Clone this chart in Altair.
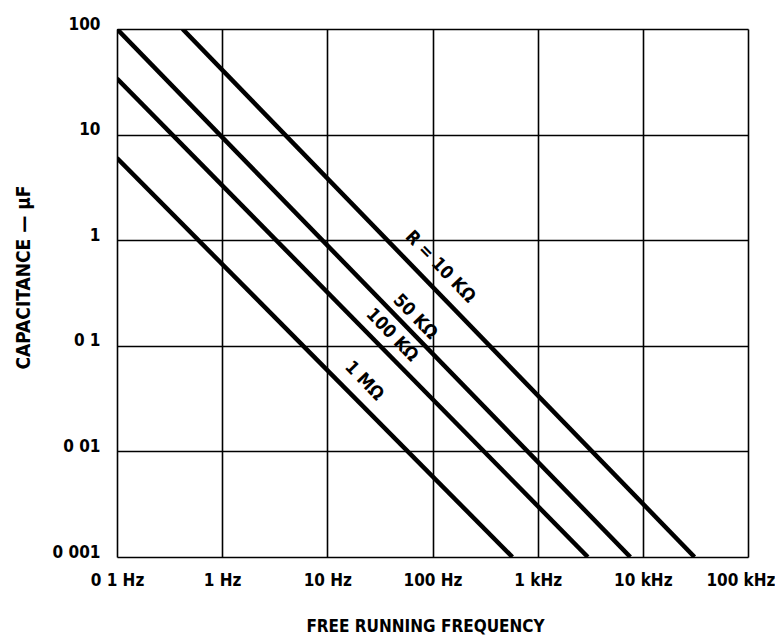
import altair as alt
import pandas as pd

# Line endpoints (frequency in Hz, capacitance in uF)
series = ["10K", "50K", "100K", "1M"]
f_start = [0.42, 0.1, 0.1, 0.1]
c_start = [100, 100, 34, 6.0]
f_end = [31000, 7600, 3000, 575]
c_end = [0.001, 0.001, 0.001, 0.001]

# Curve labels
label_text = ["R = 10 KΩ", "50 KΩ", "100 KΩ", "1 MΩ"]
label_f = [118, 68, 41, 22.3]
label_c = [0.557, 0.187, 0.126, 0.0464]

x_tick_values = [0.1, 1, 10, 100, 1000, 10000, 100000]
x_tick_labels = ["0 1 Hz", "1 Hz", "10 Hz", "100 Hz", "1 kHz", "10 kHz", "100 kHz"]
y_tick_values = [0.001, 0.01, 0.1, 1, 10, 100]
y_tick_labels = ["0 001", "0 01", "0 1", "1", "10", "100"]

rows = []
for s, f0, c0, f1, c1 in zip(series, f_start, c_start, f_end, c_end):
    rows.append({"series": s, "f": f0, "c": c0})
    rows.append({"series": s, "f": f1, "c": c1})
lines_df = pd.DataFrame(rows)
labels_df = pd.DataFrame({"text": label_text, "f": label_f, "c": label_c})


def label_expr(values, labels):
    expr = "''"
    for v, l in zip(values, labels):
        expr = f"abs(datum.value - {v}) < {v}*0.01 ? '{l}' : " + expr
    return expr


FONT = "DejaVu Sans Condensed, Liberation Sans Narrow, Liberation Sans, sans-serif"

xscale = alt.Scale(type="log", domain=[0.1, 100000], nice=False)
yscale = alt.Scale(type="log", domain=[0.001, 100], nice=False)

x_axis = alt.Axis(
    values=x_tick_values,
    labelExpr=label_expr(x_tick_values, x_tick_labels),
    title="FREE RUNNING FREQUENCY",
    grid=True, gridColor="black", gridWidth=1.6, gridOpacity=1,
    domain=False, ticks=False,
    labelFont=FONT, labelFontSize=17, labelFontWeight="bold", labelColor="black",
    labelPadding=15, labelFlush=False,
    labelAlign={"condition": {"test": "datum.value > 50000", "value": "right"}, "value": "center"},
    labelOffset={"condition": {"test": "datum.value > 50000", "value": 27}, "value": 0},
    titleFont=FONT, titleFontSize=17, titleFontWeight="bold", titleColor="black",
    titlePadding=30, titleX=308,
)
y_axis = alt.Axis(
    values=y_tick_values,
    labelExpr=label_expr(y_tick_values, y_tick_labels),
    title="CAPACITANCE  —  µF",
    grid=True, gridColor="black", gridWidth=1.6, gridOpacity=1,
    domain=False, ticks=False,
    labelFont=FONT, labelFontSize=17, labelFontWeight="bold", labelColor="black",
    labelPadding=17, labelBaseline="alphabetic", labelFlush=False,
    titleFont=FONT, titleFontSize=19, titleFontWeight="bold", titleColor="black",
    titleAngle=270, titleAlign="center", titleBaseline="middle",
    titleX=-94, titleY=248,
)

lines = alt.Chart(lines_df).mark_line(color="black", strokeWidth=4.5, clip=True).encode(
    x=alt.X("f:Q", scale=xscale, axis=x_axis),
    y=alt.Y("c:Q", scale=yscale, axis=y_axis),
    detail="series:N",
)

texts = alt.Chart(labels_df).mark_text(
    angle=46, font=FONT, fontSize=18, fontWeight="bold", color="black",
    align="center", baseline="middle",
).encode(
    x=alt.X("f:Q", scale=xscale),
    y=alt.Y("c:Q", scale=yscale),
    text="text:N",
)

chart = (
    alt.layer(lines, texts)
    .properties(
        width=631, height=528,
        autosize=alt.AutoSizeParams(type="none"),
        padding={"left": 109, "top": 21, "right": 27, "bottom": 78},
    )
    .configure_view(stroke="black", strokeWidth=2)
    .configure(background="white")
)

chart.save("out.html", embed_options={"renderer": "svg", "actions": False})
